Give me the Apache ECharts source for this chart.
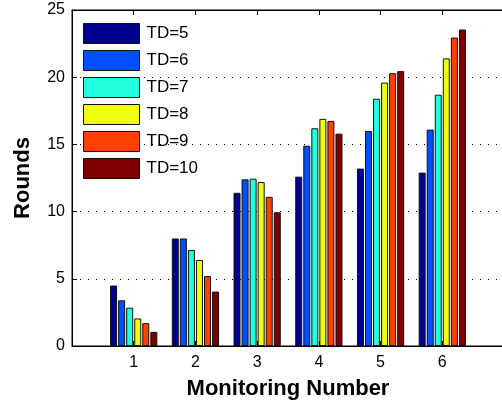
<!DOCTYPE html>
<html>
<head>
<meta charset="utf-8">
<style>
  html, body { margin: 0; padding: 0; background: #fff; }
  #chart { width: 502px; height: 403px; }
</style>
<script src="https://cdn.jsdelivr.net/npm/echarts@6/dist/echarts.min.js"></script>
</head>
<body>
<div id="chart"></div>
<script>
// Monitoring numbers on the x axis
var categories = [1, 2, 3, 4, 5, 6];
// Rounds for each TD setting
var td5  = [4.5, 8.0, 11.4, 12.6, 13.2, 12.9];
var td6  = [3.4, 8.0, 12.4, 14.9, 16.0, 16.1];
var td7  = [2.85, 7.15, 12.45, 16.2, 18.4, 18.7];
var td8  = [2.05, 6.4, 12.2, 16.9, 19.6, 21.4];
var td9  = [1.7, 5.2, 11.1, 16.75, 20.3, 22.95];
var td10 = [1.05, 4.05, 9.95, 15.8, 20.45, 23.55];
var seriesNames = ['TD=5', 'TD=6', 'TD=7', 'TD=8', 'TD=9', 'TD=10'];
var yTicks = [0, 5, 10, 15, 20, 25];

var colors = ['#00008f', '#0050ff', '#20ffdf', '#efff10', '#ff4000', '#800000'];
var allValues = [td5, td6, td7, td8, td9, td10];
var font = 'Liberation Sans, Arial, Helvetica, sans-serif';

var chart = echarts.init(document.getElementById('chart'), null, { renderer: 'canvas' });

var series = allValues.map(function (vals, i) {
  return {
    name: seriesNames[i],
    type: 'bar',
    barWidth: 7,
    barGap: '15%',
    data: vals.map(function (v, j) { return [categories[j], v]; }),
    itemStyle: {
      color: colors[i],
      borderColor: '#111',
      borderWidth: 1
    },
    emphasis: { disabled: true },
    animation: false
  };
});

var option = {
  animation: false,
  color: colors,
  grid: {
    left: 72, top: 10, width: 432, height: 336,
    outerBoundsMode: 'none',
    containLabel: false,
    show: true, borderColor: '#000', borderWidth: 1, backgroundColor: '#fff'
  },
  legend: {
    orient: 'vertical',
    left: 83,
    top: 23,
    padding: 0,
    itemWidth: 56,
    itemHeight: 20,
    itemGap: 6,
    icon: 'rect',
    data: seriesNames,
    textStyle: { fontFamily: font, fontSize: 17, color: '#000', padding: [0, 0, 0, 2] },
    itemStyle: { borderColor: '#111', borderWidth: 1 }
  },
  xAxis: [{
    type: 'value',
    min: 0,
    max: 7,
    interval: 1,
    name: 'Monitoring Number',
    nameLocation: 'middle',
    nameGap: 32,
    nameTextStyle: { fontFamily: font, fontSize: 22, fontWeight: 'bold', color: '#000' },
    axisLine: { show: true, lineStyle: { color: '#000', width: 1 } },
    axisTick: { show: true, inside: true, length: 5, lineStyle: { color: '#000' } },
    axisLabel: {
      fontFamily: font, fontSize: 16, color: '#000', margin: 9,
      formatter: function (v) { return categories.indexOf(v) >= 0 ? String(v) : ''; }
    },
    splitLine: { show: false }
  }, {
    type: 'value',
    position: 'top',
    min: 0,
    max: 7,
    interval: 1,
    axisLine: { show: true, lineStyle: { color: '#000', width: 1 } },
    axisTick: { show: true, inside: true, length: 5, lineStyle: { color: '#000' } },
    axisLabel: { show: false },
    splitLine: { show: false }
  }],
  yAxis: {
    type: 'value',
    min: yTicks[0],
    max: yTicks[yTicks.length - 1],
    interval: 5,
    name: 'Rounds',
    nameLocation: 'middle',
    nameGap: 38,
    nameTextStyle: { fontFamily: font, fontSize: 22, fontWeight: 'bold', color: '#000' },
    axisLine: { show: true, lineStyle: { color: '#000', width: 1 } },
    axisTick: { show: true, inside: true, length: 5, lineStyle: { color: '#000' } },
    axisLabel: { fontFamily: font, fontSize: 16, color: '#000', margin: 7 },
    splitLine: { show: true, lineStyle: { color: '#000', width: 1, type: [1, 7] } }
  },
  series: series
};

chart.setOption(option);
</script>
</body>
</html>
